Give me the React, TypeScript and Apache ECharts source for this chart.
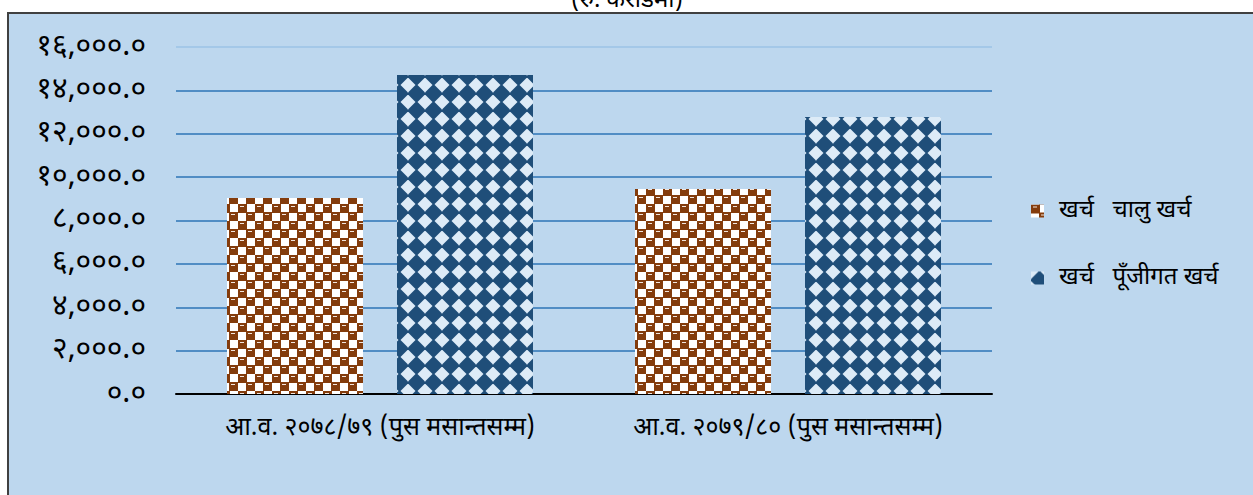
import React, { useEffect, useRef } from "react";
import * as echarts from "echarts";

const categories = [
  "आ.व. २०७८/७९ (पुस मसान्तसम्म)",
  "आ.व. २०७९/८० (पुस मसान्तसम्म)",
];
const seriesNames = ["खर्च   चालु खर्च", "खर्च   पूँजीगत खर्च"];
const currentExpense = [9040, 9450];
const capitalExpense = [14710, 12770];
const yTickLabels = [
  "०.०",
  "२,०००.०",
  "४,०००.०",
  "६,०००.०",
  "८,०००.०",
  "१०,०००.०",
  "१२,०००.०",
  "१४,०००.०",
  "१६,०००.०",
];
const titleText = "(रु. करोडमा)";

const FONT = "'Noto Sans Devanagari', 'Lohit Devanagari', Mangal, Kokila, 'Noto Sans', sans-serif";

function makeChecker(): HTMLCanvasElement {
  const c = document.createElement("canvas");
  c.width = 17;
  c.height = 17;
  const g = c.getContext("2d")!;
  g.fillStyle = "#ffffff";
  g.fillRect(0, 0, 17, 17);
  g.fillStyle = "#843C0C";
  g.fillRect(0, 0, 9, 9);
  g.fillRect(8, 8, 9, 9);
  g.fillStyle = "#f4e6dc";
  g.fillRect(2, 2, 4, 1);
  g.fillRect(10, 10, 4, 1);
  return c;
}

function makeDiamond(): HTMLCanvasElement {
  const c = document.createElement("canvas");
  c.width = 17;
  c.height = 17;
  const g = c.getContext("2d")!;
  g.fillStyle = "#DDEBF7";
  g.fillRect(0, 0, 17, 17);
  g.fillStyle = "#1F4E79";
  g.beginPath();
  g.moveTo(8.5, -1);
  g.lineTo(18, 8.5);
  g.lineTo(8.5, 18);
  g.lineTo(-1, 8.5);
  g.closePath();
  g.fill();
  return c;
}

export default function App() {
  const ref = useRef<HTMLDivElement>(null);
  useEffect(() => {
    if (!ref.current) return;
    const chart = echarts.init(ref.current, undefined, { renderer: "svg" });
    const checker = makeChecker();
    const diamond = makeDiamond();
    const gridColors = [
      "#2E75B6", "#2E75B6", "#2E75B6", "#2E75B6", "#2E75B6",
      "#2E75B6", "#2E75B6", "#2E75B6", "#9DC3E6",
    ];
    chart.setOption({
      animation: false,
      backgroundColor: "#ffffff",
      graphic: [
        {
          type: "rect",
          z: -10,
          shape: { x: 8, y: 13, width: 1260, height: 500 },
          style: { fill: "#BDD7EE", stroke: "#404040", lineWidth: 2 },
        },
        {
          type: "text",
          x: 627,
          y: 13,
          style: {
            text: titleText,
            fontFamily: FONT,
            fontSize: 24,
            fill: "#000",
            textAlign: "center",
            textVerticalAlign: "bottom",
          },
        },
      ],
      grid: { left: 176, right: 261, top: 47, bottom: 101 },
      legend: {
        orient: "vertical",
        left: 1026,
        top: 194,
        itemGap: 43,
        itemWidth: 13,
        itemHeight: 13,
        icon: "rect",
        textStyle: {
          fontFamily: FONT,
          fontSize: 24,
          color: "#000",
          padding: [0, 0, 0, 10],
        },
        data: seriesNames,
      },
      xAxis: {
        type: "category",
        data: categories,
        axisLine: { lineStyle: { color: "#000", width: 2 } },
        axisTick: { show: false },
        axisLabel: { fontFamily: FONT, fontSize: 25, color: "#000", margin: 22 },
      },
      yAxis: {
        type: "value",
        min: 0,
        max: 16000,
        interval: 2000,
        axisLine: { show: false },
        axisTick: { show: false },
        splitLine: { lineStyle: { color: gridColors, width: 1.5 } },
        axisLabel: {
          fontFamily: FONT,
          fontSize: 30,
          color: "#000",
          margin: 30,
          formatter: (v: number) => yTickLabels[Math.round(v / 2000)] ?? "",
        },
      },
      series: [
        {
          name: seriesNames[0],
          type: "bar",
          data: currentExpense,
          barGap: "25%",
          barCategoryGap: "25%",
          itemStyle: { color: { image: checker, repeat: "repeat" } },
        },
        {
          name: seriesNames[1],
          type: "bar",
          data: capitalExpense,
          itemStyle: { color: { image: diamond, repeat: "repeat" } },
        },
      ],
    });
    return () => chart.dispose();
  }, []);
  return (
    <div
      ref={ref}
      style={{ position: "absolute", left: 0, top: 0, width: 1253, height: 495 }}
    />
  );
}
